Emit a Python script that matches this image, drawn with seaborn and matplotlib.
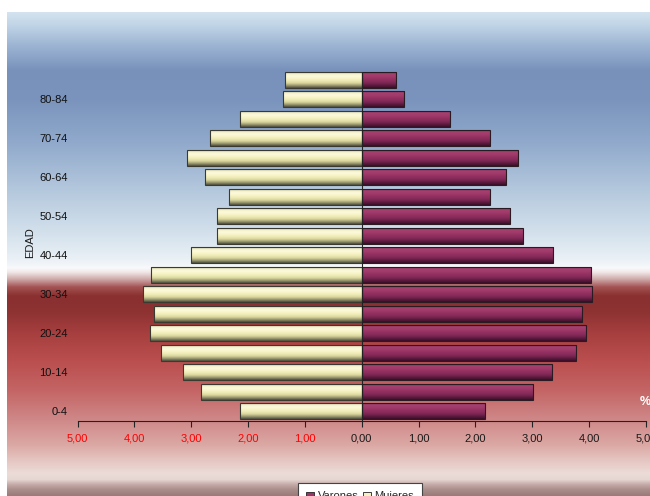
import numpy as np
import pandas as pd
import seaborn as sns
import matplotlib.pyplot as plt
from matplotlib.colors import LinearSegmentedColormap, to_rgb
from matplotlib.patches import Patch

# Pirámide de población (% por grupo de edad)
edades = ['0-4', '5-9', '10-14', '15-19', '20-24', '25-29', '30-34', '35-39',
          '40-44', '45-49', '50-54', '55-59', '60-64', '65-69', '70-74',
          '75-79', '80-84', '85+']
varones = [2.17, 3.01, 3.34, 3.77, 3.94, 3.88, 4.05, 4.03, 3.36,
           2.83, 2.61, 2.25, 2.54, 2.75, 2.25, 1.55, 0.74, 0.60]
mujeres = [2.14, 2.83, 3.14, 3.53, 3.72, 3.65, 3.85, 3.70, 3.00,
           2.54, 2.54, 2.34, 2.75, 3.07, 2.67, 2.14, 1.38, 1.35]
etiquetas_y = ['0-4', '10-14', '20-24', '30-34', '40-44', '50-54', '60-64', '70-74', '80-84']
ticks_x = [-5, -4, -3, -2, -1, 0, 1, 2, 3, 4, 5]

df = pd.DataFrame({'edad': edades, 'Varones': varones, 'Mujeres': mujeres})
df['Mujeres_neg'] = -df['Mujeres']
orden = edades[::-1]  # 85+ arriba

sns.set_style('white')
plt.rcParams['font.family'] = ['Liberation Sans', 'DejaVu Sans']

W, H = 650, 496
fig = plt.figure(figsize=(6.5, 4.96), dpi=100)

# fondo degradado (azul arriba, blanco, banda roja, rosado abajo)
stops = [(12, '#d4e3ef'), (25, '#c0d4e6'), (45, '#9db5d3'), (70, '#7891bb'),
         (100, '#7a94bd'), (140, '#8fa8cb'), (190, '#b4c8dd'), (235, '#d5e2ed'),
         (260, '#ebf1f6'), (268, '#f8f9fb'), (272, '#f2e8e8'), (279, '#d0acac'),
         (287, '#a45454'), (296, '#8a3030'), (312, '#8e3232'), (335, '#a84040'),
         (360, '#ba4e4e'), (390, '#c46464'), (420, '#cf8888'), (445, '#dba8a4'),
         (462, '#e6c8c4'), (474, '#ecdcd8'), (480, '#e6d6d2'), (485, '#c4aaa8'),
         (490, '#aa8e8c'), (496, '#9a7c7a')]
ys = np.arange(12, 497)
sy = np.array([s[0] for s in stops])
sc = np.array([to_rgb(s[1]) for s in stops])
bg = np.stack([np.interp(ys, sy, sc[:, k]) for k in range(3)], axis=-1)[:, None, :]
ax_bg = fig.add_axes([7 / W, 0, 1 - 7 / W, (H - 12) / H], zorder=0)
ax_bg.imshow(bg, aspect='auto', interpolation='bilinear')
ax_bg.axis('off')

ax = fig.add_axes([77.5 / W, 1 - 421 / H, (646 - 77.5) / W, (421 - 70) / H], zorder=1)
ax.patch.set_alpha(0)

sns.barplot(data=df, x='Varones', y='edad', order=orden, orient='h', color='#9a3466',
            width=0.83, edgecolor='#2a1a22', linewidth=0.8, errorbar=None, ax=ax)
sns.barplot(data=df, x='Mujeres_neg', y='edad', order=orden, orient='h', color='#f4f1c4',
            width=0.83, edgecolor='#3a3a30', linewidth=0.8, errorbar=None, ax=ax)

# sombreado cilíndrico de las barras
cmap_v = LinearSegmentedColormap.from_list('v', ['#4a1a34', '#a6406f', '#a23c6c', '#983464',
                                                 '#8c2d5e', '#7a2552', '#5a1a3e', '#3a0f26'])
cmap_m = LinearSegmentedColormap.from_list('m', ['#6a6a50', '#f0eec8', '#fcfadc', '#f8f4c8',
                                                 '#eeeab4', '#d8d49c', '#9a9870', '#4e4e40'])
grad = np.linspace(0, 1, 64)[:, None]
for p in list(ax.patches):
    x0, y0 = p.get_x(), p.get_y()
    w, h = p.get_width(), p.get_height()
    cmap = cmap_m if w < 0 else cmap_v
    im = ax.imshow(grad, extent=(x0, x0 + w, y0 + h, y0), cmap=cmap, aspect='auto',
                   interpolation='bilinear', zorder=1.5)
    im.set_clip_path(p)
    p.set_facecolor('none')
    p.set_zorder(2)

ax.axvline(0, ymin=0, ymax=0.995, color='#222222', lw=0.8, zorder=2.5)
ax.set_xlim(-5, 5)
ax.set_ylim(len(orden) - 0.5, -0.5)

ax.set_xticks(ticks_x)
ax.set_xticklabels([f'{abs(v):.2f}'.replace('.', ',') for v in ticks_x], fontsize=8)
for lab, v in zip(ax.get_xticklabels(), ticks_x):
    lab.set_color('#ff0000' if v < 0 else '#1a1a1a')
ax.set_yticks(range(len(orden)))
ax.set_yticklabels([e if e in etiquetas_y else '' for e in orden], fontsize=8, color='#111111')
ax.tick_params(axis='x', direction='out', length=4, width=0.8, color='#222222', pad=5, bottom=True)
ax.tick_params(axis='y', length=0, pad=7)
ax.set_xlabel('')
ax.set_ylabel('')
for s in ['top', 'right', 'left']:
    ax.spines[s].set_visible(False)
ax.spines['bottom'].set_color('#222222')
ax.spines['bottom'].set_linewidth(0.8)

fig.text(30 / W, 1 - 243 / H, 'EDAD', rotation=90, fontsize=8, ha='center', va='center',
         color='#1a1a1a')
fig.text(645 / W, 1 - 402 / H, '%', fontsize=9, fontweight='bold', color='white',
         ha='center', va='center')

# leyenda parcialmente fuera del lienzo, como en el original
handles = [Patch(facecolor='#9a3466', edgecolor='#222222', lw=0.6, label='Varones'),
           Patch(facecolor='#f4f1c4', edgecolor='#222222', lw=0.6, label='Mujeres')]
leg = fig.legend(handles=handles, loc='upper center', bbox_to_anchor=(360 / W, 1 - 483 / H),
                 ncol=2, fontsize=8, frameon=True, fancybox=False, edgecolor='#444444',
                 handlelength=0.7, handleheight=0.7, handletextpad=0.3, columnspacing=0.4,
                 borderpad=0.75, borderaxespad=0, framealpha=1)
leg.get_frame().set_linewidth(0.8)

fig.savefig('out.png', dpi=100)
